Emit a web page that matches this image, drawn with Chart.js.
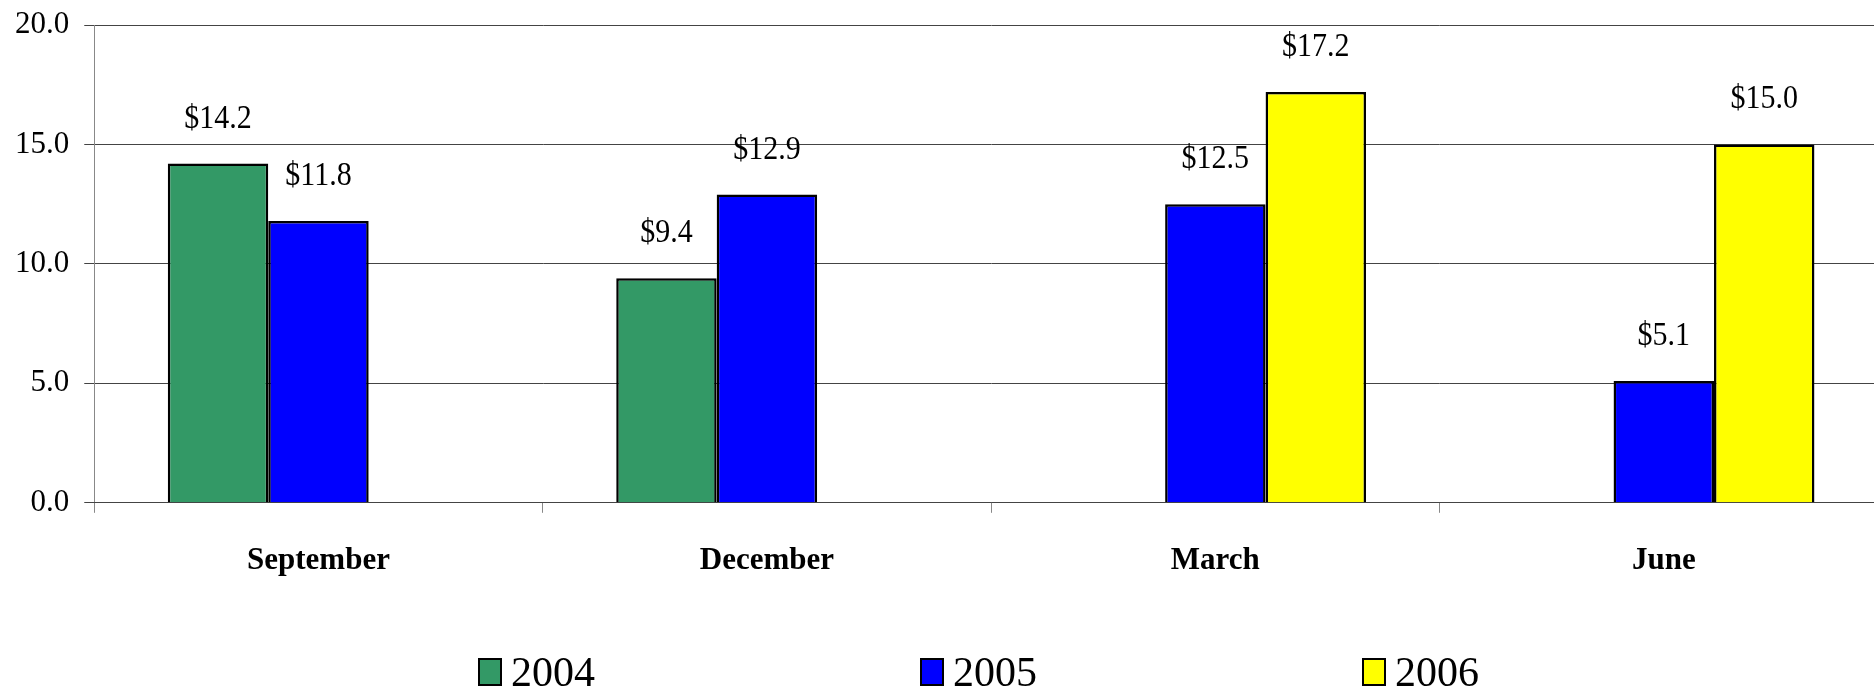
<!DOCTYPE html>
<html>
<head>
<meta charset="utf-8">
<script src="https://cdn.jsdelivr.net/npm/chart.js@4"></script>
<style>
  html, body { margin: 0; padding: 0; background: #fff; overflow: hidden; }
  #wrap { position: relative; width: 1890px; height: 690px; }
  #legend { position: absolute; left: 478px; top: 652px; display: flex;
    font-family: "Liberation Serif", "Times New Roman", serif; font-size: 42px; line-height: 40px; }
  .item { width: 442px; display: flex; align-items: center; }
  .box { width: 20px; height: 24px; border: 2px solid #000; margin-right: 9px; }
</style>
</head>
<body>
<div id="wrap">
  <canvas id="myChart" width="1890" height="690"></canvas>
  <div id="legend"></div>
</div>
<script>
const months = ['September', 'December', 'March', 'June'];
const y2004 = [14.2, 9.4, null, null];
const y2005 = [11.8, 12.9, 12.5, 5.1];
const y2006 = [null, null, 17.2, 15.0];
const yTicks = [0, 5, 10, 15, 20];

const serif = '"Liberation Serif", "Times New Roman", serif';

// dollar labels above each bar
const valueLabels = {
  id: 'valueLabels',
  afterDatasetsDraw(chart) {
    const ctx = chart.ctx;
    ctx.save();
    ctx.fillStyle = '#000';
    ctx.font = '30px ' + serif;
    ctx.textAlign = 'center';
    ctx.textBaseline = 'alphabetic';
    chart.data.datasets.forEach((ds, i) => {
      chart.getDatasetMeta(i).data.forEach((bar, j) => {
        const v = ds.data[j];
        if (v == null) return;
        ctx.save();
        ctx.translate(bar.x, bar.y - 36);
        ctx.scale(1, 1.15);
        ctx.fillText('$' + v.toFixed(1), 0, 0);
        ctx.restore();
      });
    });
    ctx.restore();
  }
};

// html legend
const htmlLegend = {
  id: 'htmlLegend',
  afterUpdate(chart) {
    const el = document.getElementById('legend');
    el.innerHTML = '';
    chart.data.datasets.forEach(ds => {
      const item = document.createElement('div');
      item.className = 'item';
      const box = document.createElement('span');
      box.className = 'box';
      box.style.background = ds.backgroundColor;
      const txt = document.createElement('span');
      txt.textContent = ds.label;
      item.appendChild(box);
      item.appendChild(txt);
      el.appendChild(item);
    });
  }
};

const data = {
  labels: months,
  datasets: [
    { label: '2004', backgroundColor: '#339966', data: y2004 },
    { label: '2005', backgroundColor: '#0000FF', data: y2005 },
    { label: '2006', backgroundColor: '#FFFF00', data: y2006 }
  ]
};

const config = {
  type: 'bar',
  data: data,
  options: {
    responsive: false,
    animation: false,
    layout: { padding: { top: 25, left: 0, right: 2, bottom: 80 } },
    datasets: {
      bar: {
        borderColor: '#000',
        borderWidth: 2.5,
        barPercentage: 1,
        categoryPercentage: 0.672
      }
    },
    plugins: {
      legend: { display: false },
      tooltip: { enabled: false }
    },
    scales: {
      y: {
        min: 0,
        max: 20,
        afterBuildTicks(axis) { axis.ticks = yTicks.map(v => ({ value: v })); },
        ticks: {
          color: '#000',
          font: { family: serif, size: 31, lineHeight: 0.35 },
          padding: 15,
          callback: v => Number(v).toFixed(1)
        },
        grid: { color: '#444', lineWidth: 1, tickLength: 10 },
        border: { color: '#888', width: 1 }
      },
      x: {
        ticks: {
          color: '#000',
          font: { family: serif, size: 31, weight: 'bold' },
          padding: 30
        },
        grid: { drawOnChartArea: false, color: '#888', tickLength: 10 },
        border: { color: '#444', width: 1 }
      }
    }
  },
  plugins: [valueLabels, htmlLegend]
};

var myChart = new Chart(document.getElementById('myChart'), config);
</script>
</body>
</html>
